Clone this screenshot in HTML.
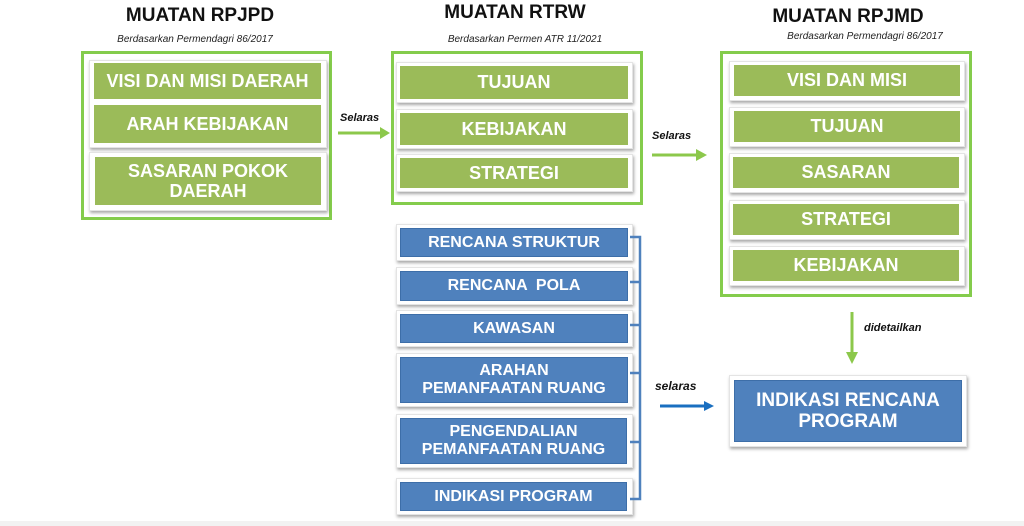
<!DOCTYPE html>
<html><head><style>
body{margin:0;width:1024px;height:526px;background:#fff;position:relative;overflow:hidden;font-family:"Liberation Sans",sans-serif}
div{position:absolute;box-sizing:border-box}
.t{font-weight:bold;font-size:19px;color:#111;text-align:center}
.s{font-style:italic;font-size:10px;color:#222;text-align:center}
.o{border:3px solid #84cc4c}
.p{background:#fff;box-shadow:1px 2px 3px rgba(0,0,0,.35);border:1px solid #e4e4e4}
.g,.b{color:#fff;font-weight:bold;display:flex;align-items:center;justify-content:center;text-align:center;line-height:1.12}
.g{background:#9bbb59;font-size:18px}
.b{background:#4f81bd;font-size:16px;border:1px solid #3d6ea8}
.l{font-style:italic;font-weight:bold;font-size:11px;color:#111}
</style></head><body>
<div class="t" style="left:100px;top:5px;width:200px">MUATAN RPJPD</div>
<div class="s" style="left:95px;top:34px;width:200px">Berdasarkan Permendagri 86/2017</div>
<div class="o" style="left:81px;top:51px;width:251px;height:169px"></div>
<div class="p" style="left:89px;top:60px;width:238px;height:88px"></div>
<div class="g" style="left:94px;top:63px;width:227px;height:36px">VISI DAN MISI DAERAH</div>
<div class="g" style="left:94px;top:105px;width:227px;height:38px">ARAH KEBIJAKAN</div>
<div class="p" style="left:89px;top:152px;width:238px;height:59px"></div>
<div class="g" style="left:95px;top:157px;width:226px;height:48px">SASARAN POKOK<br>DAERAH</div>

<div class="l" style="left:340px;top:112px">Selaras</div>
<svg style="position:absolute;left:336px;top:126px" width="56" height="14"><line x1="2" y1="7" x2="46" y2="7" stroke="#8cc84b" stroke-width="3"/><polygon points="44,1 54,7 44,13" fill="#8cc84b"/></svg>

<div class="t" style="left:415px;top:2px;width:200px">MUATAN RTRW</div>
<div class="s" style="left:425px;top:34px;width:200px">Berdasarkan Permen ATR 11/2021</div>
<div class="o" style="left:391px;top:51px;width:252px;height:154px"></div>
<div class="p" style="left:396px;top:62px;width:237px;height:41px"></div>
<div class="g" style="left:400px;top:66px;width:228px;height:33px">TUJUAN</div>
<div class="p" style="left:396px;top:109px;width:237px;height:40px"></div>
<div class="g" style="left:400px;top:113px;width:228px;height:32px">KEBIJAKAN</div>
<div class="p" style="left:396px;top:154px;width:237px;height:38px"></div>
<div class="g" style="left:400px;top:158px;width:228px;height:30px">STRATEGI</div>

<div class="l" style="left:652px;top:130px">Selaras</div>
<svg style="position:absolute;left:650px;top:148px" width="60" height="14"><line x1="2" y1="7" x2="48" y2="7" stroke="#8cc84b" stroke-width="3"/><polygon points="46,1 57,7 46,13" fill="#8cc84b"/></svg>

<div class="t" style="left:748px;top:6px;width:200px">MUATAN RPJMD</div>
<div class="s" style="left:765px;top:31px;width:200px">Berdasarkan Permendagri 86/2017</div>
<div class="o" style="left:720px;top:51px;width:252px;height:246px"></div>
<div class="p" style="left:729px;top:61px;width:236px;height:40px"></div>
<div class="g" style="left:734px;top:65px;width:226px;height:31px">VISI DAN MISI</div>
<div class="p" style="left:729px;top:107px;width:236px;height:40px"></div>
<div class="g" style="left:734px;top:111px;width:226px;height:31px">TUJUAN</div>
<div class="p" style="left:729px;top:153px;width:236px;height:40px"></div>
<div class="g" style="left:733px;top:157px;width:226px;height:31px">SASARAN</div>
<div class="p" style="left:729px;top:200px;width:236px;height:40px"></div>
<div class="g" style="left:733px;top:204px;width:226px;height:31px">STRATEGI</div>
<div class="p" style="left:729px;top:246px;width:236px;height:40px"></div>
<div class="g" style="left:733px;top:250px;width:226px;height:31px">KEBIJAKAN</div>

<svg style="position:absolute;left:842px;top:310px" width="20" height="56"><line x1="10" y1="2" x2="10" y2="44" stroke="#8cc84b" stroke-width="3"/><polygon points="4,42 10,54 16,42" fill="#8cc84b"/></svg>
<div class="l" style="left:864px;top:322px">didetailkan</div>

<div class="p" style="left:396px;top:224px;width:237px;height:37px"></div>
<div class="b" style="left:400px;top:228px;width:228px;height:29px">RENCANA STRUKTUR</div>
<div class="p" style="left:396px;top:267px;width:237px;height:38px"></div>
<div class="b" style="left:400px;top:271px;width:228px;height:30px">RENCANA &nbsp;POLA</div>
<div class="p" style="left:396px;top:310px;width:237px;height:37px"></div>
<div class="b" style="left:400px;top:314px;width:228px;height:29px">KAWASAN</div>
<div class="p" style="left:396px;top:353px;width:237px;height:54px"></div>
<div class="b" style="left:400px;top:357px;width:228px;height:46px">ARAHAN<br>PEMANFAATAN RUANG</div>
<div class="p" style="left:396px;top:414px;width:237px;height:54px"></div>
<div class="b" style="left:400px;top:418px;width:227px;height:46px">PENGENDALIAN<br>PEMANFAATAN RUANG</div>
<div class="p" style="left:396px;top:478px;width:237px;height:37px"></div>
<div class="b" style="left:400px;top:482px;width:227px;height:29px">INDIKASI PROGRAM</div>

<svg style="position:absolute;left:625px;top:230px" width="25" height="280"><path d="M5 7 H15 V269 H5 M5 52 H15 M5 95 H15 M5 143 H15 M5 212 H15" stroke="#4f81bd" stroke-width="2.5" fill="none"/></svg>

<div class="l" style="left:655px;top:379px;font-size:12px">selaras</div>
<svg style="position:absolute;left:658px;top:399px" width="60" height="14"><line x1="2" y1="7" x2="48" y2="7" stroke="#1a6fc0" stroke-width="3"/><polygon points="46,2 56,7 46,12" fill="#1a6fc0"/></svg>

<div class="p" style="left:729px;top:375px;width:238px;height:72px"></div>
<div class="b" style="left:734px;top:380px;width:228px;height:62px;font-size:19px">INDIKASI RENCANA<br>PROGRAM</div>
<div style="left:0;top:521px;width:1024px;height:5px;background:#f2f2f2"></div>
</body></html>
